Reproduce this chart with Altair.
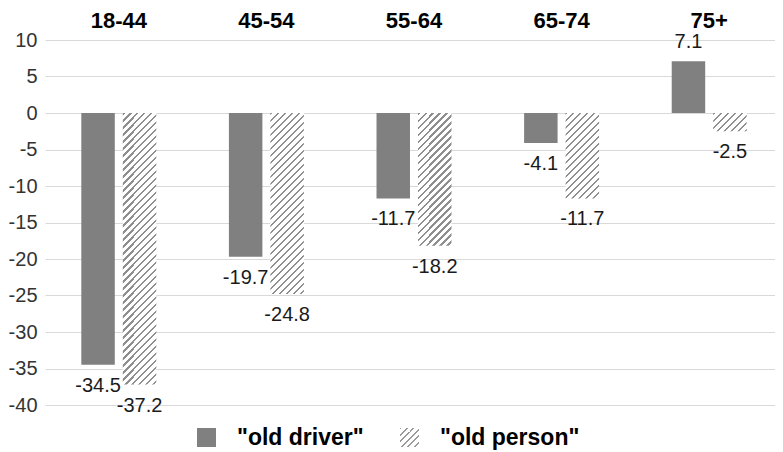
import altair as alt
import pandas as pd

# ---- data ----
groups = ["18-44", "45-54", "55-64", "65-74", "75+"]
series_keys = ["driver", "person"]
series_names = ['"old driver"', '"old person"']
old_driver = [-34.5, -19.7, -11.7, -4.1, 7.1]
old_person = [-37.2, -24.8, -18.2, -11.7, -2.5]
y_ticks = [-40, -35, -30, -25, -20, -15, -10, -5, 0, 5, 10]

FONT = "Liberation Sans"
SOLID = "#808080"
HATCH = "#8f8f8f"

rows = []
for g, d, p in zip(groups, old_driver, old_person):
    rows.append({"group": g, "series": "driver", "value": d})
    rows.append({"group": g, "series": "person", "value": p})
df = pd.DataFrame(rows)

PLOT_W, PLOT_H = 730, 365
X_RANGE = 738
PX_PER_UNIT = PLOT_H / (y_ticks[-1] - y_ticks[0])
BAR_W = 33.5


def hatch(w, h, period=7.0, line=2.2, color=HATCH):
    """Diagonal '/' stripes as a bounding-box linear gradient."""
    total = w + h
    a = total / (w * w + h * h)
    stops = []
    pos = 0.0
    while pos < total:
        s0 = pos / total
        s1 = min(pos + line, total) / total
        s2 = min(pos + period, total) / total
        stops += [(s0, color), (s1, color), (s1, "#ffffff"), (s2, "#ffffff")]
        pos += period
    return alt.LinearGradient(
        gradient="linear", x1=0, y1=0, x2=a * w, y2=a * h,
        stops=[alt.GradientStop(offset=o, color=c) for o, c in stops],
    )


x_enc = alt.X(
    "group:N", sort=groups,
    scale=alt.Scale(range=[0, X_RANGE], paddingInner=0, paddingOuter=0),
    axis=alt.Axis(orient="top", title=None, labelFont=FONT, labelFontSize=22,
                  labelFontWeight="bold", labelColor="#000000", labelPadding=8,
                  ticks=False, domain=False, grid=False, labelAngle=0),
)
xo_enc = alt.XOffset(
    "series:N", sort=series_keys,
    scale=alt.Scale(paddingInner=0.193, paddingOuter=0.875),
)
y_enc = alt.Y(
    "value:Q",
    scale=alt.Scale(domain=[y_ticks[0], y_ticks[-1]], nice=False),
    axis=alt.Axis(values=y_ticks, title=None, labelFont=FONT, labelFontSize=20,
                  labelColor="#333333", labelPadding=8, ticks=False, tickSize=0,
                  labelExpr="toString(datum.value)",
                  domain=False, grid=True, gridColor="#d9d9d9", gridWidth=1.2),
)

base = alt.Chart(df).transform_calculate(
    label="replace(format(datum.value, '.1f'), '\u2212', '-')"
)

solid = base.transform_filter(alt.datum.series == "driver").mark_bar(
    color=SOLID
).encode(x=x_enc, xOffset=xo_enc, y=y_enc)

layers = [solid]
for g, p in zip(groups, old_person):
    h = abs(p) * PX_PER_UNIT
    layers.append(
        base.transform_filter(
            (alt.datum.series == "person") & (alt.datum.group == g)
        ).mark_bar(fill=hatch(BAR_W, h)).encode(x=x_enc, xOffset=xo_enc, y=y_enc)
    )

neg_labels = base.transform_filter(alt.datum.value < 0).mark_text(
    font=FONT, fontSize=20, color="#1a1a1a", baseline="middle", align="center", dy=21
).encode(x=x_enc, xOffset=xo_enc, y=y_enc, text="label:N")

pos_labels = base.transform_filter(alt.datum.value >= 0).mark_text(
    font=FONT, fontSize=20, color="#1a1a1a", baseline="middle", align="center", dy=-19
).encode(x=x_enc, xOffset=xo_enc, y=y_enc, text="label:N")

# ---- manual legend at the bottom ----
leg1 = pd.DataFrame({"label": [series_names[0]]})
leg2 = pd.DataFrame({"label": [series_names[1]]})

leg_solid = alt.Chart(leg1).mark_rect(fill=SOLID).encode(
    x=alt.value(152), x2=alt.value(171), y=alt.value(388), y2=alt.value(407)
)
leg_hatch = alt.Chart(leg2).mark_rect(fill=hatch(19, 19, period=6.5, line=1.8, color="#9a9a9a")).encode(
    x=alt.value(355), x2=alt.value(374), y=alt.value(388), y2=alt.value(407)
)
leg_text1 = alt.Chart(leg1).mark_text(
    font=FONT, fontSize=23, fontWeight="bold", color="#000000", align="left", baseline="middle"
).encode(x=alt.value(192), y=alt.value(398), text="label:N")
leg_text2 = alt.Chart(leg2).mark_text(
    font=FONT, fontSize=23, fontWeight="bold", color="#000000", align="left", baseline="middle"
).encode(x=alt.value(395), y=alt.value(398), text="label:N")

chart = alt.layer(
    *layers, neg_labels, pos_labels, leg_solid, leg_hatch, leg_text1, leg_text2
).properties(
    width=PLOT_W, height=PLOT_H,
    autosize=alt.AutoSizeParams(type="none"),
    padding={"left": 37, "top": 32, "right": 0, "bottom": 47},
    background="#ffffff",
).configure_view(stroke=None)

chart.save("out.html", embed_options={"renderer": "svg", "actions": False})
